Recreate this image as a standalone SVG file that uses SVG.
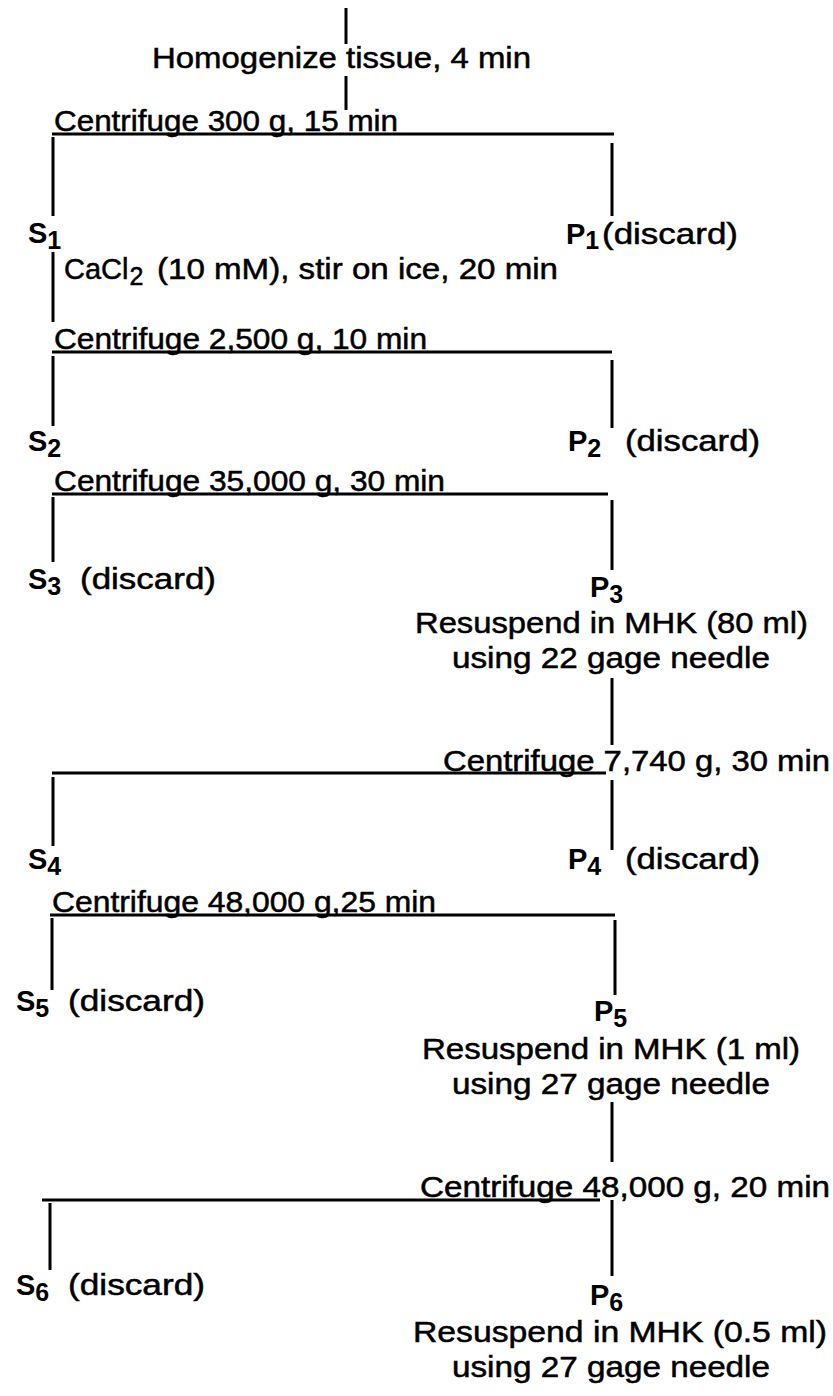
<svg xmlns="http://www.w3.org/2000/svg" width="833" height="1396" viewBox="0 0 833 1396">
<style>
.t{font-family:"Liberation Sans",Arial,sans-serif;font-size:29px;fill:#000;stroke:#000;stroke-width:0.5}
.b{font-family:"Liberation Sans",Arial,sans-serif;font-size:29px;font-weight:bold;fill:#000}
.sb{font-family:"Liberation Sans",Arial,sans-serif;font-size:25px;font-weight:bold;fill:#000}
.ln{stroke:#000;stroke-width:3;fill:none;stroke-linecap:butt}
</style>
<rect width="833" height="1396" fill="#fff"/>
<g id="connectors" class="ln">
<path d="M346 8V44M346 76V110"/>
<path d="M52 134H614M53 137V216M612 143V216"/>
<path d="M53 252V322"/>
<path d="M52 352H612M53 356V426M612 360V428"/>
<path d="M52 494H608M53 497V562M612 500V570"/>
<path d="M612 678V745"/>
<path d="M52 773H606M53 777V846M612 780V850"/>
<path d="M50 915H615M52 918V990M615 920V995"/>
<path d="M612 1102V1162"/>
<path d="M42 1200H600M50 1203V1270M612 1200V1276"/>
</g>
<g id="homogenize"><text class="t" x="152" y="68" textLength="379" lengthAdjust="spacingAndGlyphs">Homogenize tissue, 4 min</text></g>
<g id="cf1"><text class="t" x="54" y="131" textLength="344" lengthAdjust="spacingAndGlyphs">Centrifuge 300 g, 15 min</text></g>
<g id="s1"><text x="28" y="243"><tspan class="b">S</tspan><tspan class="sb" dy="6">1</tspan></text></g>
<g id="p1"><text x="566" y="244"><tspan class="b">P</tspan><tspan class="sb" dy="5">1</tspan></text>
<text class="t" x="602" y="244" textLength="136" lengthAdjust="spacingAndGlyphs">(discard)</text></g>
<g id="cacl2"><text class="t" x="64" y="279">CaCl<tspan style="font-size:25px" dy="6" dx="1">2</tspan></text>
<text class="t" x="157" y="279" textLength="401" lengthAdjust="spacingAndGlyphs">(10 mM), stir on ice, 20 min</text></g>
<g id="cf2"><text class="t" x="54" y="349" textLength="373" lengthAdjust="spacingAndGlyphs">Centrifuge 2,500 g, 10 min</text></g>
<g id="s2"><text x="28" y="451"><tspan class="b">S</tspan><tspan class="sb" dy="6">2</tspan></text></g>
<g id="p2"><text x="568" y="451"><tspan class="b">P</tspan><tspan class="sb" dy="6">2</tspan></text>
<text class="t" x="625" y="451" textLength="135" lengthAdjust="spacingAndGlyphs">(discard)</text></g>
<g id="cf3"><text class="t" x="54" y="491" textLength="391" lengthAdjust="spacingAndGlyphs">Centrifuge 35,000 g, 30 min</text></g>
<g id="s3"><text x="28" y="589"><tspan class="b">S</tspan><tspan class="sb" dy="6">3</tspan></text>
<text class="t" x="80" y="589" textLength="136" lengthAdjust="spacingAndGlyphs">(discard)</text></g>
<g id="p3"><text x="590" y="597"><tspan class="b">P</tspan><tspan class="sb" dy="6">3</tspan></text>
<text class="t" x="415" y="633" textLength="393" lengthAdjust="spacingAndGlyphs">Resuspend in MHK (80 ml)</text>
<text class="t" x="452" y="668" textLength="318" lengthAdjust="spacingAndGlyphs">using 22 gage needle</text></g>
<g id="cf4"><text class="t" x="443" y="771" textLength="387" lengthAdjust="spacingAndGlyphs">Centrifuge 7,740 g, 30 min</text></g>
<g id="s4"><text x="28" y="869"><tspan class="b">S</tspan><tspan class="sb" dy="6">4</tspan></text></g>
<g id="p4"><text x="568" y="869"><tspan class="b">P</tspan><tspan class="sb" dy="6">4</tspan></text>
<text class="t" x="625" y="869" textLength="135" lengthAdjust="spacingAndGlyphs">(discard)</text></g>
<g id="cf5"><text class="t" x="52" y="912" textLength="384" lengthAdjust="spacingAndGlyphs">Centrifuge 48,000 g,25 min</text></g>
<g id="s5"><text x="16" y="1011"><tspan class="b">S</tspan><tspan class="sb" dy="6">5</tspan></text>
<text class="t" x="68" y="1011" textLength="137" lengthAdjust="spacingAndGlyphs">(discard)</text></g>
<g id="p5"><text x="594" y="1021"><tspan class="b">P</tspan><tspan class="sb" dy="6">5</tspan></text>
<text class="t" x="422" y="1059" textLength="378" lengthAdjust="spacingAndGlyphs">Resuspend in MHK (1 ml)</text>
<text class="t" x="452" y="1094" textLength="318" lengthAdjust="spacingAndGlyphs">using 27 gage needle</text></g>
<g id="cf6"><text class="t" x="420" y="1197" textLength="410" lengthAdjust="spacingAndGlyphs">Centrifuge 48,000 g, 20 min</text></g>
<g id="s6"><text x="16" y="1295"><tspan class="b">S</tspan><tspan class="sb" dy="6">6</tspan></text>
<text class="t" x="68" y="1295" textLength="137" lengthAdjust="spacingAndGlyphs">(discard)</text></g>
<g id="p6"><text x="590" y="1305"><tspan class="b">P</tspan><tspan class="sb" dy="6">6</tspan></text>
<text class="t" x="413" y="1342" textLength="414" lengthAdjust="spacingAndGlyphs">Resuspend in MHK (0.5 ml)</text>
<text class="t" x="452" y="1377" textLength="318" lengthAdjust="spacingAndGlyphs">using 27 gage needle</text></g>
</svg>
